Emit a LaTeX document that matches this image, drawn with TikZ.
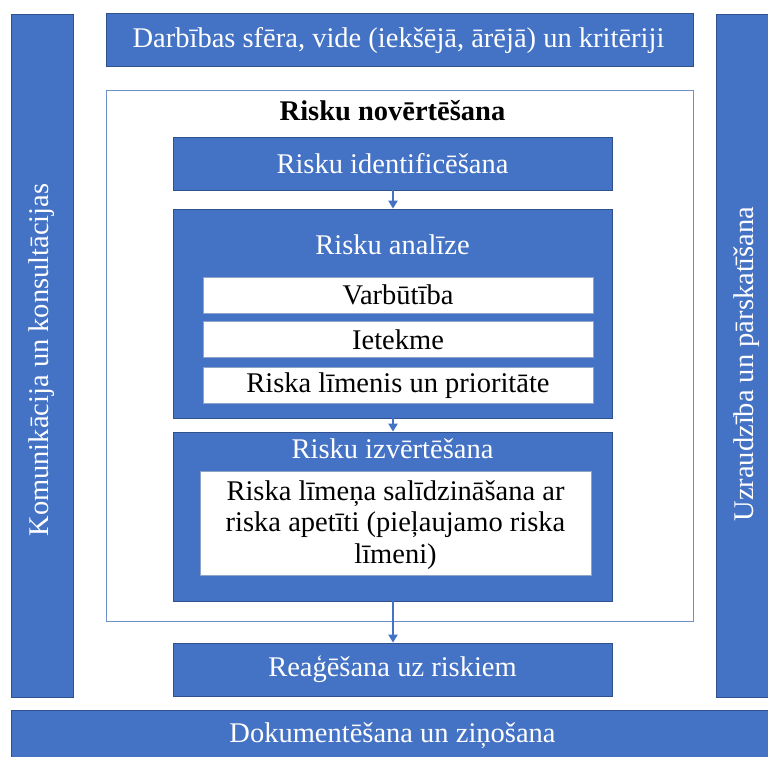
\documentclass[tikz,border=0pt]{standalone}
\usepackage{fontspec}
\setmainfont{Liberation Serif}
\usetikzlibrary{arrows.meta}
\definecolor{blu}{HTML}{4472C4}
\definecolor{bord}{HTML}{2F528F}
\definecolor{frame}{HTML}{6F8FC8}
\definecolor{thin}{HTML}{8FA3C8}
\begin{document}
\begin{tikzpicture}[x=1pt,y=-1pt,
  every node/.style={font=\fontsize{28.5}{31.5}\selectfont, inner sep=0pt},
  bluebox/.style={draw=bord, line width=0.8pt, fill=blu, text=white},
  whitebox/.style={draw=thin, line width=0.8pt, fill=white, text=black},
  flow/.style={draw=blu, line width=2.2pt, -{Triangle[width=9pt,length=8pt]}}]
\useasboundingbox (0,0) rectangle (768,756);
\clip (0,0) rectangle (768,756);
\fill[white] (0,0) rectangle (768,756);

% side bars
\node[bluebox, rotate=90, minimum width=683pt, minimum height=62pt] (komun) at (42,355.5) {};
\node[text=white, rotate=90] (komuntxt) at (42,360) {Komunikācija un konsultācijas};
\node[bluebox, rotate=90, minimum width=683pt, minimum height=64pt] (uzr) at (748,355.5) {};
\node[text=white, rotate=90] (uzrtxt) at (747,364) {Uzraudzība un pārskatīšana};

% top and bottom bars
\node[bluebox, minimum width=587pt, minimum height=53pt] (scope) at (399.5,39.5) {};
\node[text=white] (scopetxt) at (398.5,40) {Darbības sfēra, vide (iekšējā, ārējā) un kritēriji};
\node[bluebox, minimum width=769pt, minimum height=60pt] (doc) at (395.5,740) {};
\node[text=white] (doctxt) at (392.5,736) {Dokumentēšana un ziņošana};

% risk assessment frame
\node[draw=frame, line width=1pt, fill=white, minimum width=587pt, minimum height=531pt] (assess) at (399.5,355.5) {};
\node[font=\fontsize{28.5}{31.5}\selectfont\bfseries] (assesstxt) at (392.5,111) {Risku novērtēšana};

% identification
\node[bluebox, minimum width=439pt, minimum height=53pt] (ident) at (392.5,163.5) {Risku identificēšana};

% analysis
\node[bluebox, minimum width=439pt, minimum height=209pt] (anal) at (392.5,313.5) {};
\node[text=white] (analtxt) at (392.5,245) {Risku analīze};
\node[whitebox, minimum width=390pt, minimum height=36pt] (varb) at (398,295) {Varbūtība};
\node[whitebox, minimum width=390pt, minimum height=36pt] (iet) at (398,339.5) {Ietekme};
\node[whitebox, minimum width=390pt, minimum height=36pt] (lim) at (398,385.5) {Riska līmenis un prioritāte};

% evaluation
\node[bluebox, minimum width=439pt, minimum height=169pt] (eval) at (392.5,516.5) {};
\node[text=white] (evaltxt) at (392.5,449) {Risku izvērtēšana};
\node[whitebox, minimum width=391pt, minimum height=104pt] (cmp) at (395.5,523) {};
\node[align=center] (cmptxt) at (395.5,525)
  {Riska līmeņa salīdzināšana ar\\riska apetīti (pieļaujamo riska\\līmeni)};

% treatment
\node[bluebox, minimum width=439pt, minimum height=53pt] (treat) at (392.5,669.5) {Reaģēšana uz riskiem};

% connectors
\draw[flow] ([xshift=0.5pt]ident.south) -- ([xshift=0.5pt]anal.north);
\draw[flow] ([xshift=0.5pt]anal.south) -- ([xshift=0.5pt]eval.north);
\draw[flow] ([xshift=0.5pt]eval.south) -- ([xshift=0.5pt]treat.north);
\end{tikzpicture}
\end{document}
